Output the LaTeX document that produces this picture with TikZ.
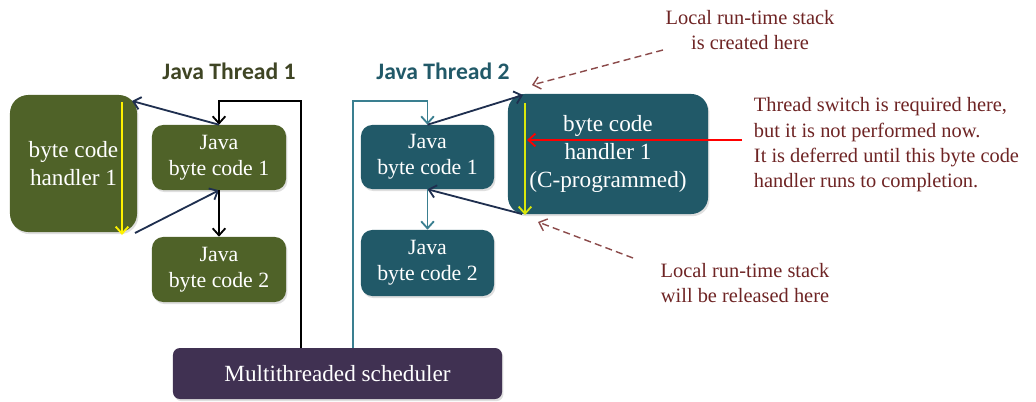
\documentclass[tikz,border=0pt]{standalone}
\usepackage{fontspec}
\setmainfont{Liberation Serif}
\newfontfamily\titlefont{Carlito}
\usetikzlibrary{calc}
\usetikzlibrary{arrows.meta}
\usetikzlibrary{shadows}
\tikzset{>={Straight Barb[length=5pt,width=9pt]}}
\definecolor{olivebox}{HTML}{4F6228}
\definecolor{tealbox}{HTML}{215968}
\definecolor{purplebox}{HTML}{403152}
\definecolor{titleone}{HTML}{3F4524}
\definecolor{titletwo}{HTML}{215968}
\definecolor{navyline}{HTML}{1F2F4F}
\definecolor{tealline}{HTML}{3A7F90}
\definecolor{notetext}{HTML}{6E2424}
\definecolor{notedash}{HTML}{8B4A4A}
\tikzset{
  box/.style={rounded corners=8pt, text=white, align=center, inner sep=0pt,
    font=\fontsize{15.5}{18.5}\selectfont,
    drop shadow={opacity=0.25, shadow xshift=1pt, shadow yshift=-1.5pt}},
  title/.style={font=\titlefont\bfseries\fontsize{16.8}{20}\selectfont},
  note/.style={text=notetext, font=\fontsize{14.5}{18}\selectfont},
  link/.style={->, line width=1.3pt},
  hint/.style={->, dashed, dash pattern=on 5pt off 3pt, line width=1pt, color=notedash},
}

\begin{document}
\begin{tikzpicture}[x=0.025cm, y=-0.025cm]
  \useasboundingbox (0,0) rectangle (1036,401);

  % 坐标点定义
  \coordinate (P1) at (132,101);
  \coordinate (P2) at (135,233);
  \coordinate (Y1) at (122,102);
  \coordinate (Y2) at (122,235);
  \coordinate (T1) at (301,101);
  \coordinate (P3) at (523,95);
  \coordinate (P4) at (522,214);
  \coordinate (Y3) at (525,103);
  \coordinate (Y4) at (525,215);
  \coordinate (T2) at (353,101);
  \coordinate (R1) at (742,140);
  \coordinate (R2) at (527,140);
  \coordinate (D1) at (663,50);
  \coordinate (D2) at (532,85);
  \coordinate (D3) at (633,258);
  \coordinate (D4) at (538,222);

  % 方框
  \node[box, fill=olivebox, rounded corners=13pt, minimum width=3.175cm, minimum height=3.425cm, font=\fontsize{16.5}{19.5}\selectfont] (H1) at (73.5,163.5) {byte code\\handler 1};
  \node[box, fill=olivebox, minimum width=3.35cm, minimum height=1.625cm] (A1) at (219,157.5) {Java\\byte code 1};
  \node[box, fill=olivebox, minimum width=3.35cm, minimum height=1.625cm] (A2) at (219,269.5) {Java\\byte code 2};
  \node[box, fill=tealbox, rounded corners=12pt, minimum width=5cm, minimum height=3cm, font=\fontsize{16.5}{20}\selectfont] (H2) at (608,154) {byte code\\handler 1\\(C-programmed)};
  \node[box, fill=tealbox, minimum width=3.325cm, minimum height=1.6cm] (B1) at (427.5,157) {Java\\byte code 1};
  \node[box, fill=tealbox, minimum width=3.325cm, minimum height=1.65cm] (B2) at (427.5,263) {Java\\byte code 2};
  \node[box, fill=purplebox, rounded corners=5pt, minimum width=8.225cm, minimum height=1.275cm, font=\fontsize{16.5}{20}\selectfont] (S) at (337.5,373.5) {Multithreaded scheduler};

  % 标题与说明
  \node[title, text=titleone] (L1) at (229,71) {Java Thread 1};
  \node[title, text=titletwo] (L2) at (443,71) {Java Thread 2};
  \node[note, align=center] (N1) at (750,30) {Local run-time stack\\is created here};
  \node[note, align=left, anchor=west] (N2) at (749,145) {Thread switch is required here,\\but it is not performed now.\\It is deferred until this byte code\\handler runs to completion.};
  \node[note, align=center] (N3) at (745,283) {Local run-time stack\\will be released here};

  % 线程1
  \draw[link, color=black] (S.north -| T1) -- (T1) -| (A1.north);
  \draw[link, color=navyline] (A1.north) -- (P1);
  \draw[link, color=navyline] (P2) -- (A1.south);
  \draw[link, color=black] (A1.south) -- (A2.north);
  \draw[link, color=yellow] (Y1) -- (Y2);

  % 线程2
  \draw[link, color=tealline] (S.north -| T2) -- (T2) -| (B1.north);
  \draw[link, color=navyline] (B1.north) -- (P3);
  \draw[link, color=navyline] (P4) -- (B1.south);
  \draw[link, color=tealline] (B1.south) -- (B2.north);
  \draw[link, color=yellow!85!green] (Y3) -- (Y4);
  \draw[link, color=red] (R1) -- (R2);

  % 虚线箭头
  \draw[hint] (D1) -- (D2);
  \draw[hint] (D3) -- (D4);
\end{tikzpicture}
\end{document}
